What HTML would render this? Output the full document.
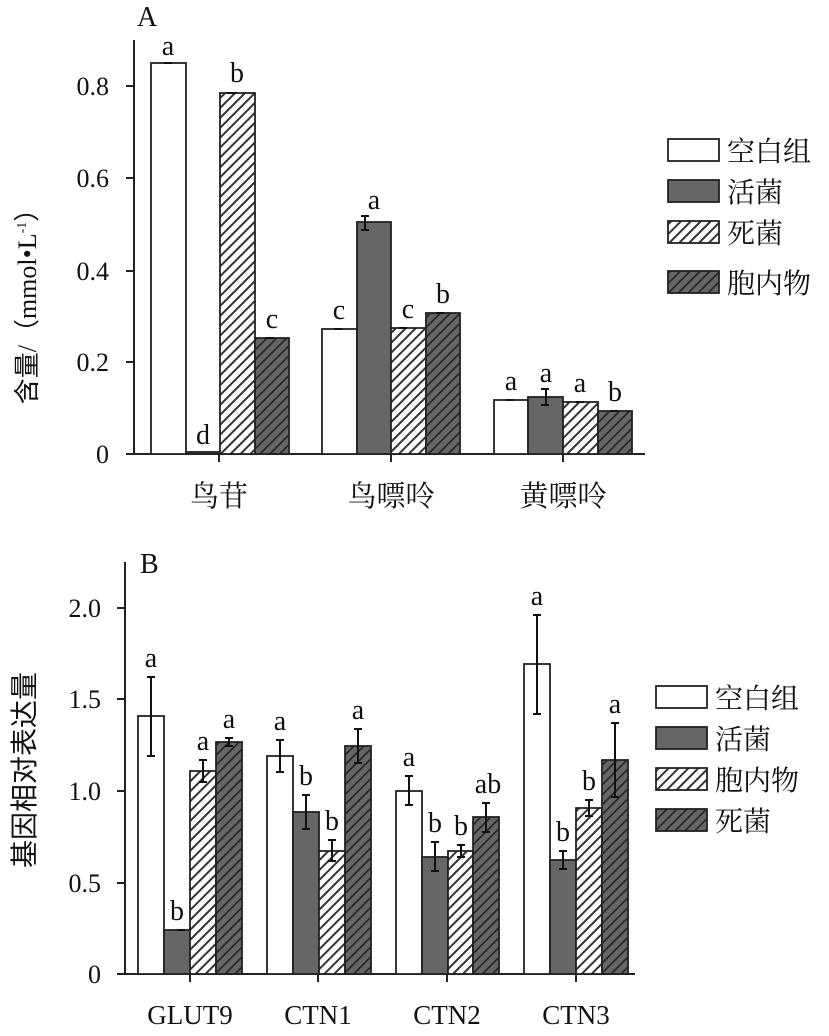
<!DOCTYPE html>
<html><head><meta charset="utf-8"><style>body{margin:0;background:#fff}svg{display:block}text{font-family:"Liberation Serif","Noto Serif CJK SC",serif;fill:#111}.cj{font-family:"Liberation Serif","Noto Sans CJK SC",sans-serif}</style></head><body>
<svg width="829" height="1036" viewBox="0 0 829 1036" xmlns="http://www.w3.org/2000/svg">
<defs>
<pattern id="hl" patternUnits="userSpaceOnUse" width="7" height="7" patternTransform="rotate(45)"><rect width="7" height="7" fill="#fff"/><rect width="2" height="7" fill="#333"/></pattern>
<pattern id="hd" patternUnits="userSpaceOnUse" width="7" height="7" patternTransform="rotate(45)"><rect width="7" height="7" fill="#666"/><rect width="1.6" height="7" fill="#222"/></pattern>
</defs>
<g stroke="#222" stroke-width="2">
<line x1="134" y1="40" x2="134" y2="455"/>
<line x1="126" y1="454" x2="645" y2="454"/>
<line x1="126" y1="86" x2="134" y2="86"/><line x1="126" y1="178" x2="134" y2="178"/><line x1="126" y1="271" x2="134" y2="271"/><line x1="126" y1="362" x2="134" y2="362"/>
<line x1="219" y1="454" x2="219" y2="462"/><line x1="391" y1="454" x2="391" y2="462"/><line x1="563" y1="454" x2="563" y2="462"/>
</g>
<g stroke="#222" stroke-width="1.8">
<rect x="151" y="63" width="35" height="391" fill="#fff"/>
<rect x="186" y="452" width="34" height="2" fill="#666"/>
<rect x="220" y="93" width="35" height="361" fill="url(#hl)"/>
<rect x="255" y="338" width="34" height="116" fill="url(#hd)"/>
<rect x="322" y="329" width="35" height="125" fill="#fff"/>
<rect x="357" y="222" width="34" height="232" fill="#666"/>
<rect x="391" y="328" width="35" height="126" fill="url(#hl)"/>
<rect x="426" y="313" width="34" height="141" fill="url(#hd)"/>
<rect x="494" y="400" width="34" height="54" fill="#fff"/>
<rect x="528" y="397" width="35" height="57" fill="#666"/>
<rect x="563" y="402" width="35" height="52" fill="url(#hl)"/>
<rect x="598" y="411" width="34" height="43" fill="url(#hd)"/>
</g>
<g stroke="#111" stroke-width="2">
<path d="M164 63h8M227 93h10M266 338h8M334 329h8M365 216v15M361 216h8M361 230h8M399 328h8M436 313h8M506 400h8M546 389v16M541 389h8M541 405h8M576 402h8M610 411h8"/>
</g>
<g font-size="28" text-anchor="middle">
<text x="168" y="55">a</text><text x="203" y="444">d</text><text x="237" y="82">b</text><text x="272" y="328">c</text>
<text x="339" y="319">c</text><text x="374" y="209">a</text><text x="408" y="318">c</text><text x="443" y="303">b</text>
<text x="511" y="390">a</text><text x="546" y="382">a</text><text x="580" y="392">a</text><text x="615" y="401">b</text>
</g>
<text x="137" y="26" font-size="28">A</text>
<g font-size="26" text-anchor="end">
<text x="109" y="95">0.8</text><text x="109" y="187">0.6</text><text x="109" y="280">0.4</text><text x="109" y="371">0.2</text><text x="109" y="463">0</text>
</g>
<g font-size="29" text-anchor="middle" class="cj">
<text x="219" y="506">鸟苷</text><text x="391" y="506">鸟嘌呤</text><text x="563" y="506">黄嘌呤</text>
</g>
<text transform="translate(36,300) rotate(-90)" font-size="26" text-anchor="middle" class="cj">含量/（mmol•L<tspan font-size="14" dy="-10">-1</tspan><tspan dy="10">）</tspan></text>
<g stroke="#222" stroke-width="1.8">
<rect x="668" y="139" width="51" height="22" fill="#fff"/>
<rect x="668" y="180" width="51" height="22" fill="#666"/>
<rect x="668" y="221" width="51" height="22" fill="url(#hl)"/>
<rect x="668" y="271" width="51" height="22" fill="url(#hd)"/>
</g>
<g font-size="28" class="cj">
<text x="727" y="161">空白组</text><text x="727" y="202">活菌</text><text x="727" y="243">死菌</text><text x="727" y="293">胞内物</text>
</g>

<g stroke="#222" stroke-width="2">
<line x1="125" y1="562" x2="125" y2="975"/>
<line x1="117" y1="974" x2="635" y2="974"/>
<line x1="117" y1="608" x2="125" y2="608"/><line x1="117" y1="699" x2="125" y2="699"/><line x1="117" y1="791" x2="125" y2="791"/><line x1="117" y1="883" x2="125" y2="883"/>
<line x1="190" y1="974" x2="190" y2="982"/><line x1="318" y1="974" x2="318" y2="982"/><line x1="447" y1="974" x2="447" y2="982"/><line x1="576" y1="974" x2="576" y2="982"/>
</g>
<g stroke="#222" stroke-width="1.8">
<rect x="138" y="716" width="26" height="258" fill="#fff"/>
<rect x="164" y="930" width="26" height="44" fill="#666"/>
<rect x="190" y="771" width="26" height="203" fill="url(#hl)"/>
<rect x="216" y="742" width="26" height="232" fill="url(#hd)"/>
<rect x="267" y="756" width="26" height="218" fill="#fff"/>
<rect x="293" y="812" width="26" height="162" fill="#666"/>
<rect x="319" y="851" width="26" height="123" fill="url(#hl)"/>
<rect x="345" y="746" width="26" height="228" fill="url(#hd)"/>
<rect x="396" y="791" width="26" height="183" fill="#fff"/>
<rect x="422" y="857" width="26" height="117" fill="#666"/>
<rect x="448" y="851" width="25" height="123" fill="url(#hl)"/>
<rect x="473" y="817" width="26" height="157" fill="url(#hd)"/>
<rect x="524" y="664" width="26" height="310" fill="#fff"/>
<rect x="550" y="860" width="26" height="114" fill="#666"/>
<rect x="576" y="808" width="26" height="166" fill="url(#hl)"/>
<rect x="602" y="760" width="26" height="214" fill="url(#hd)"/>
</g>
<g stroke="#111" stroke-width="2" fill="none">
<path d="M151 677v79M147 677h8M147 756h8 M203 760v22M199 760h8M199 782h8 M229 738v8M225 738h8M225 746h8 M177 930h8"/>
<path d="M280 740v32M276 740h8M276 772h8 M306 795v34M302 795h8M302 829h8 M332 840v21M328 840h8M328 861h8 M358 729v34M354 729h8M354 763h8"/>
<path d="M409 776v29M405 776h8M405 805h8 M435 842v29M431 842h8M431 871h8 M461 845v12M457 845h8M457 857h8 M486 803v29M482 803h8M482 832h8"/>
<path d="M537 615v99M533 615h8M533 714h8 M563 851v18M559 851h8M559 869h8 M589 800v16M585 800h8M585 816h8 M615 723v74M611 723h8M611 797h8"/>
</g>
<g font-size="28" text-anchor="middle">
<text x="151" y="667">a</text><text x="177" y="920">b</text><text x="203" y="750">a</text><text x="229" y="728">a</text>
<text x="280" y="730">a</text><text x="306" y="785">b</text><text x="332" y="830">b</text><text x="358" y="719">a</text>
<text x="409" y="766">a</text><text x="435" y="832">b</text><text x="461" y="835">b</text><text x="488" y="793">ab</text>
<text x="537" y="605">a</text><text x="563" y="841">b</text><text x="589" y="790">b</text><text x="615" y="713">a</text>
</g>
<text x="140" y="573" font-size="28">B</text>
<g font-size="26" text-anchor="end">
<text x="101" y="617">2.0</text><text x="101" y="708">1.5</text><text x="101" y="800">1.0</text><text x="101" y="892">0.5</text><text x="101" y="983">0</text>
</g>
<g font-size="27" text-anchor="middle">
<text x="190" y="1024">GLUT9</text><text x="318" y="1024">CTN1</text><text x="447" y="1024">CTN2</text><text x="576" y="1024">CTN3</text>
</g>
<text transform="translate(34,770) rotate(-90)" font-size="28" text-anchor="middle" class="cj">基因相对表达量</text>
<g stroke="#222" stroke-width="1.8">
<rect x="656" y="686" width="51" height="22" fill="#fff"/>
<rect x="656" y="727" width="51" height="22" fill="#666"/>
<rect x="656" y="768" width="51" height="22" fill="url(#hl)"/>
<rect x="656" y="809" width="51" height="22" fill="url(#hd)"/>
</g>
<g font-size="28" class="cj">
<text x="715" y="708">空白组</text><text x="715" y="749">活菌</text><text x="715" y="790">胞内物</text><text x="715" y="831">死菌</text>
</g>
</svg>
</body></html>
